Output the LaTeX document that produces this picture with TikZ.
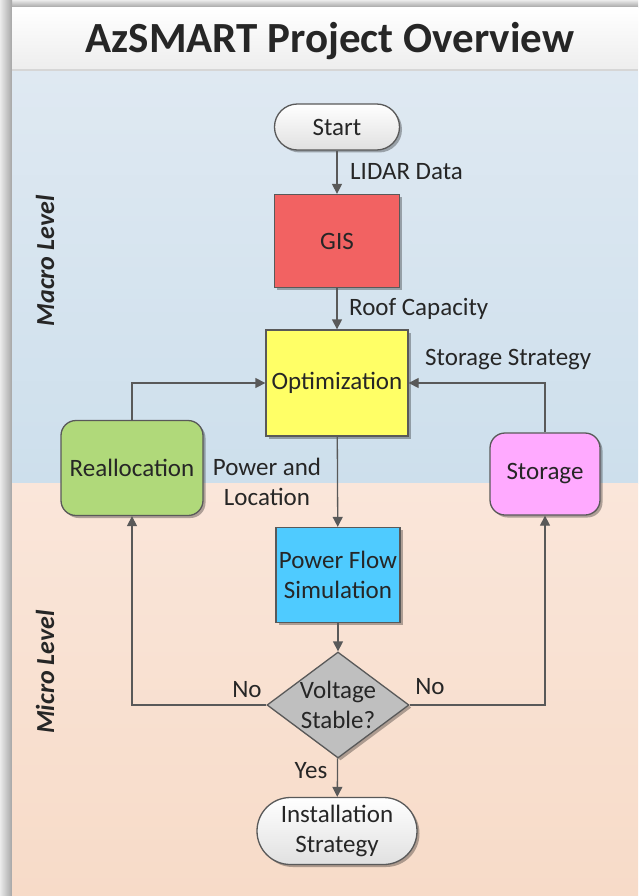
\documentclass[tikz,border=0pt]{standalone}
\usepackage{fontspec}
\setmainfont{Carlito}
\usetikzlibrary{shapes.geometric,arrows.meta,shadows}
\definecolor{txt}{HTML}{262626}
\definecolor{edge}{HTML}{595959}
\definecolor{gisred}{HTML}{F26262}
\definecolor{optyel}{HTML}{FFFF66}
\definecolor{regreen}{HTML}{B0D97A}
\definecolor{stopink}{HTML}{FFAAFF}
\definecolor{pfcyan}{HTML}{4FCBFF}
\definecolor{decgrey}{HTML}{BFBFBF}
\begin{document}
\begin{tikzpicture}[x=1pt,y=-1pt,
  every node/.style={text=txt},
  base/.style={draw=edge, line width=1.3pt, align=center, inner sep=0pt,
    font=\fontsize{25}{29.5}\selectfont,
    drop shadow={shadow xshift=2.5pt,shadow yshift=-2.5pt,opacity=0.3,fill=black}},
  sqbox/.style={base, rectangle},
  rbox/.style={base, rectangle, rounded corners=15pt},
  pill/.style={base, rectangle, top color=white, bottom color=black!12},
  lbl/.style={font=\fontsize{25}{29.5}\selectfont, inner sep=0pt, align=center},
  arr/.style={draw=edge, line width=1.3pt, -{Triangle[length=10pt,width=10pt]}, color=edge}
]
\useasboundingbox (0,0) rectangle (638,896);
% outer shadow frame
\fill[black!16] (0,0) rectangle (638,896);
\shade[top color=black!8, bottom color=black!38] (0,0) rectangle (638,8);
\shade[left color=black!8, right color=black!35] (0,0) rectangle (12,896);
% title bar
\shade[top color=white, bottom color=black!7] (12,8) rectangle (638,70);
\fill[black!16] (12,69) rectangle (638,72);
% macro / micro bands
\shade[top color={rgb,255:red,223;green,233;blue,242}, bottom color={rgb,255:red,205;green,223;blue,236}] (12,72) rectangle (638,483);
\shade[top color={rgb,255:red,250;green,230;blue,218}, bottom color={rgb,255:red,247;green,219;blue,200}] (12,483) rectangle (638,896);

\node[font=\fontsize{43}{48}\selectfont\bfseries] (title) at (330,41) {AzSMART Project Overview};
\node[rotate=90, font=\fontsize{26}{30}\selectfont\bfseries\itshape] (macro) at (45,261) {Macro Level};
\node[rotate=90, font=\fontsize{26}{30}\selectfont\bfseries\itshape] (micro) at (45,672) {Micro Level};

% nodes
\node[pill, rounded corners=22.9pt, minimum width=125pt, minimum height=46pt] (start) at (337,127) {Start};
\node[sqbox, fill=gisred, minimum width=125pt, minimum height=93pt] (gis) at (337,241) {GIS};
\node[sqbox, fill=optyel, minimum width=142pt, minimum height=106pt] (opt) at (337,383) {Optimization};
\node[rbox, fill=regreen, minimum width=142pt, minimum height=95pt] (realloc) at (132,468) {Reallocation};
\node[rbox, fill=stopink, minimum width=110pt, minimum height=82pt] (storage) at (545,474) {Storage};
\node[sqbox, fill=pfcyan, minimum width=124pt, minimum height=95pt] (pfs) at (338,575) {Power Flow\\Simulation};
\node[base, diamond, fill=decgrey, aspect=1.34, minimum width=142pt, minimum height=106pt, inner sep=-6pt] (dec) at (338,705) {Voltage\\Stable?};
\node[pill, rounded corners=33.4pt, minimum width=160pt, minimum height=67pt] (inst) at (337,831) {Installation\\Strategy};

% labels
\node[lbl, anchor=west] (llidar) at (350,172) {LIDAR Data};
\node[lbl, anchor=west] (lroof) at (349,309) {Roof Capacity};
\node[lbl, anchor=west] (lstor) at (425,360) {Storage Strategy};
\node[lbl] (lpow) at (267,482) {Power and\\Location};
\node[lbl] (lno1) at (247,690) {No};
\node[lbl] (lno2) at (430,687) {No};
\node[lbl] (lyes) at (311,771) {Yes};

% connectors
\draw[arr] (start) -- (gis);
\draw[arr] (gis) -- (opt);
\draw[arr] (opt) -- (pfs);
\draw[arr] (pfs) -- (dec);
\draw[arr] (dec) -- (inst);
\draw[arr] (dec.west) -| (realloc.south);
\draw[arr] (dec.east) -| (storage.south);
\draw[arr] (realloc.north) |- (opt.west);
\draw[arr] (storage.north) |- (opt.east);
\end{tikzpicture}
\end{document}
